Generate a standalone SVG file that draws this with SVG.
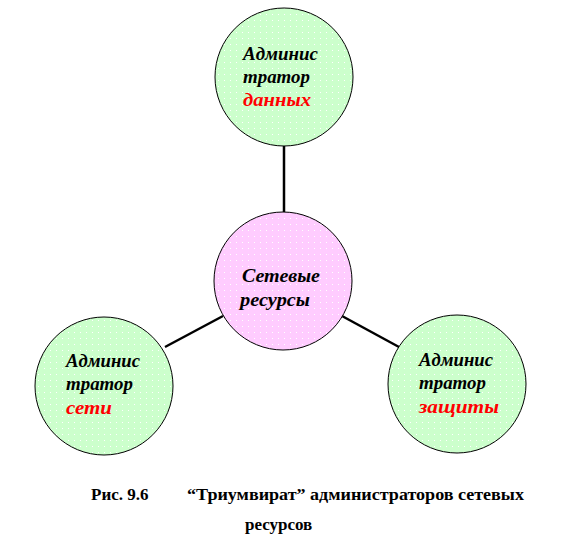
<svg xmlns="http://www.w3.org/2000/svg" width="563" height="560" viewBox="0 0 563 560">
<defs>
<pattern id="dg" width="6" height="6" patternUnits="userSpaceOnUse"><rect width="6" height="6" fill="#ccffcc"/><rect x="2" y="2" width="1" height="1" fill="#ffffff"/></pattern>
<pattern id="dp" width="6" height="6" patternUnits="userSpaceOnUse"><rect width="6" height="6" fill="#ffccff"/><rect x="2" y="2" width="1" height="1" fill="#ffffff"/></pattern>
</defs>
<style>
.c{stroke:#000;stroke-width:1}
.r{fill:#ff0000}
.ln{stroke:#000;stroke-width:2.5}
</style>
<rect width="563" height="560" fill="#fff"/>
<g id="connectors">
<line class="ln" x1="284" y1="146" x2="284" y2="213"/>
<line class="ln" x1="165" y1="347" x2="223" y2="316"/>
<line class="ln" x1="342" y1="316" x2="399" y2="347"/>
</g>
<g id="node-data">
<circle class="c" cx="284" cy="77" r="69" fill="url(#dg)"/>
<text font-family="Liberation Serif" font-size="18" font-weight="bold" font-style="italic" x="243" y="60" textLength="75" lengthAdjust="spacingAndGlyphs">Админис</text>
<text font-family="Liberation Serif" font-size="18" font-weight="bold" font-style="italic" x="243" y="83" textLength="67" lengthAdjust="spacingAndGlyphs">тратор</text>
<text class="r" font-family="Liberation Serif" font-size="18" font-weight="bold" font-style="italic" x="243" y="106" textLength="68" lengthAdjust="spacingAndGlyphs">данных</text>
</g>
<g id="node-center">
<circle class="c" cx="283" cy="281" r="69" fill="url(#dp)"/>
<text font-family="Liberation Serif" font-size="18" font-weight="bold" font-style="italic" x="242" y="282" textLength="78" lengthAdjust="spacingAndGlyphs">Сетевые</text>
<text font-family="Liberation Serif" font-size="18" font-weight="bold" font-style="italic" x="240" y="306" textLength="70" lengthAdjust="spacingAndGlyphs">ресурсы</text>
</g>
<g id="node-net">
<circle class="c" cx="104" cy="386" r="69" fill="url(#dg)"/>
<text font-family="Liberation Serif" font-size="18" font-weight="bold" font-style="italic" x="66" y="367" textLength="74" lengthAdjust="spacingAndGlyphs">Админис</text>
<text font-family="Liberation Serif" font-size="18" font-weight="bold" font-style="italic" x="66" y="390" textLength="67" lengthAdjust="spacingAndGlyphs">тратор</text>
<text class="r" font-family="Liberation Serif" font-size="18" font-weight="bold" font-style="italic" x="66" y="414" textLength="46" lengthAdjust="spacingAndGlyphs">сети</text>
</g>
<g id="node-sec">
<circle class="c" cx="457" cy="384" r="69" fill="url(#dg)"/>
<text font-family="Liberation Serif" font-size="18" font-weight="bold" font-style="italic" x="419" y="366" textLength="74" lengthAdjust="spacingAndGlyphs">Админис</text>
<text font-family="Liberation Serif" font-size="18" font-weight="bold" font-style="italic" x="419" y="389" textLength="67" lengthAdjust="spacingAndGlyphs">тратор</text>
<text class="r" font-family="Liberation Serif" font-size="18" font-weight="bold" font-style="italic" x="419" y="413" textLength="80" lengthAdjust="spacingAndGlyphs">защиты</text>
</g>
<g id="caption">
<text font-family="Liberation Serif" font-size="17" font-weight="bold" x="91" y="500">Рис. 9.6</text>
<text font-family="Liberation Serif" font-size="17" font-weight="bold" x="187" y="500" textLength="337" lengthAdjust="spacingAndGlyphs">“Триумвират” администраторов сетевых</text>
<text font-family="Liberation Serif" font-size="17" font-weight="bold" x="245" y="530">ресурсов</text>
</g>
</svg>
